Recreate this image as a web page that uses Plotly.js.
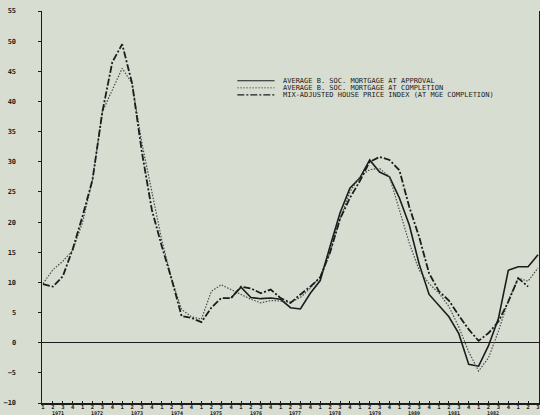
<!DOCTYPE html>
<html>
<head>
<meta charset="utf-8">
<script src="https://cdn.plot.ly/plotly-3.0.1.min.js"></script>
<style>html,body{margin:0;padding:0;background:#d7ddd1;}#chart{width:540px;height:415px;}</style>
</head>
<body>
<div id="chart"></div>
<script>
// Quarter index 0 = 1971 Q1 ... 50 = 1983 Q3
const years = ['1971','1972','1973','1974','1975','1976','1977','1978','1979','1980','1981','1982'];
const quarterLabels = ['1','2','3','4'];
const nQuarters = 51;

const seriesNames = [
  'AVERAGE B. SOC. MORTGAGE AT APPROVAL',
  'AVERAGE B. SOC. MORTGAGE AT COMPLETION',
  'MIX-ADJUSTED HOUSE PRICE INDEX (AT MGE COMPLETION)'
];

// Average building society mortgage at approval (% change), starts 1975 Q4
const approval = [null,null,null,null,null,null,null,null,null,null,
  null,null,null,null,null,null,null,null,null,
  7.4, 9.2, 7.5, 7.3, 7.4, 7.2, 5.8, 5.6, 8.2, 10.3, 16,
  21.5, 25.6, 27.3, 30.3, 28.3, 27.5, 24, 19.5, 13, 8, 6.2,
  4.3, 1.5, -3.6, -3.9, -0.5, 4, 12, 12.6, 12.6, 14.6];

// Average building society mortgage at completion
const completion = [9.8, 12.1, 13.5, 15.3, 20, 27, 38.3, 42, 45.5, 43,
  33, 25, 17, 10.5, 5.5, 4.3, 3.9, 8.5, 9.6, 8.8,
  8.0, 7.2, 6.6, 7.0, 6.9, 6.7, 7.5, 9.0, 11, 15,
  20.5, 25, 27.5, 28.7, 28.9, 27.5, 22, 16.5, 12, 9.8,
  8.2, 6.0, 2.6, -1.5, -4.7, -2.5, 1.9, 7, 10.7, 10.2,
  12.4];

// Mix-adjusted house price index (at mortgage completion)
const mixAdjusted = [9.7, 9.3, 11, 15.5, 21, 27, 38.3, 46.5, 49.5, 43,
  31.5, 22, 16, 10.5, 4.4, 4.1, 3.4, 5.8, 7.4, 7.4,
  9.3, 9.0, 8.2, 8.8, 7.4, 6.6, 8.0, 9.3, 10.8, 15,
  20.5, 24, 26.8, 30, 30.8, 30.3, 28.6, 22.5, 17.5, 11.5,
  8.5, 7.0, 4.5, 2.2, 0.3, 1.6, 3.5, 6.8, 10.7, 9.3,
  null];

const x = [];
const tickvals = [];
const ticktext = [];
for (let i = 0; i < nQuarters; i++) {
  x.push(i);
  tickvals.push(i);
  ticktext.push(quarterLabels[i % 4]);
}

const ink = '#1c1c1c';
const mono = '"DejaVu Sans Mono", "Liberation Mono", monospace';

const styles = [
  {color: ink, width: 1.6, dash: 'solid'},
  {color: '#4a4a4a', width: 1.2, dash: '1.5px,1.5px'},
  {color: ink, width: 1.8, dash: '7px,2px,2px,2px'}
];
const values = [approval, completion, mixAdjusted];

const traces = values.map((v, k) => ({
  x: x, y: v, type: 'scatter', mode: 'lines',
  name: seriesNames[k], line: styles[k], connectgaps: false,
  hoverinfo: 'skip', showlegend: false
}));

const annotations = years.map((yr, k) => ({
  x: 4 * k + 1.5, y: 0, xref: 'x', yref: 'paper',
  text: yr, showarrow: false, yanchor: 'top', yshift: -5.5, borderpad: 0,
  font: {family: mono, size: 5, color: ink, weight: 'bold'}
}));

// manual legend (tight row spacing)
const legendRows = [0.822, 0.804, 0.786];
const shapes = [];
seriesNames.forEach((nm, k) => {
  shapes.push({type: 'line', xref: 'paper', yref: 'paper',
    x0: 0.393, x1: 0.468, y0: legendRows[k], y1: legendRows[k],
    line: {color: styles[k].color, width: styles[k].width * 0.7, dash: styles[k].dash}});
  annotations.push({xref: 'paper', yref: 'paper', x: 0.48, y: legendRows[k],
    xanchor: 'left', yanchor: 'middle', showarrow: false, text: nm,
    font: {family: mono, size: 7, color: ink}});
});

const layout = {
  width: 540, height: 415,
  margin: {l: 42, r: 1, t: 11, b: 12, pad: 0},
  paper_bgcolor: '#d7ddd1', plot_bgcolor: '#d7ddd1',
  showlegend: false,
  xaxis: {
    range: [-0.1, 50.1], tickvals: tickvals, ticktext: ticktext,
    ticks: 'inside', ticklen: 2, tickcolor: ink, tickwidth: 1,
    showline: true, linecolor: ink, linewidth: 1.5,
    showgrid: false, zeroline: false,
    tickfont: {family: mono, size: 5.5, color: ink, weight: 'bold'},
    ticklabelstandoff: -2, fixedrange: true
  },
  yaxis: {
    range: [-10, 55], dtick: 5, tick0: 0,
    ticks: 'outside', ticklen: 3, tickcolor: ink, tickwidth: 1,
    showline: true, linecolor: ink, linewidth: 1.5, mirror: 'ticks',
    showgrid: false, zeroline: true, zerolinecolor: ink, zerolinewidth: 1.5,
    tickfont: {family: mono, size: 7, color: ink, weight: 'bold'},
    ticklabelstandoff: 20, fixedrange: true
  },
  annotations: annotations,
  shapes: shapes
};

Plotly.newPlot('chart', traces, layout, {displayModeBar: false, staticPlot: true});
</script>
</body>
</html>
